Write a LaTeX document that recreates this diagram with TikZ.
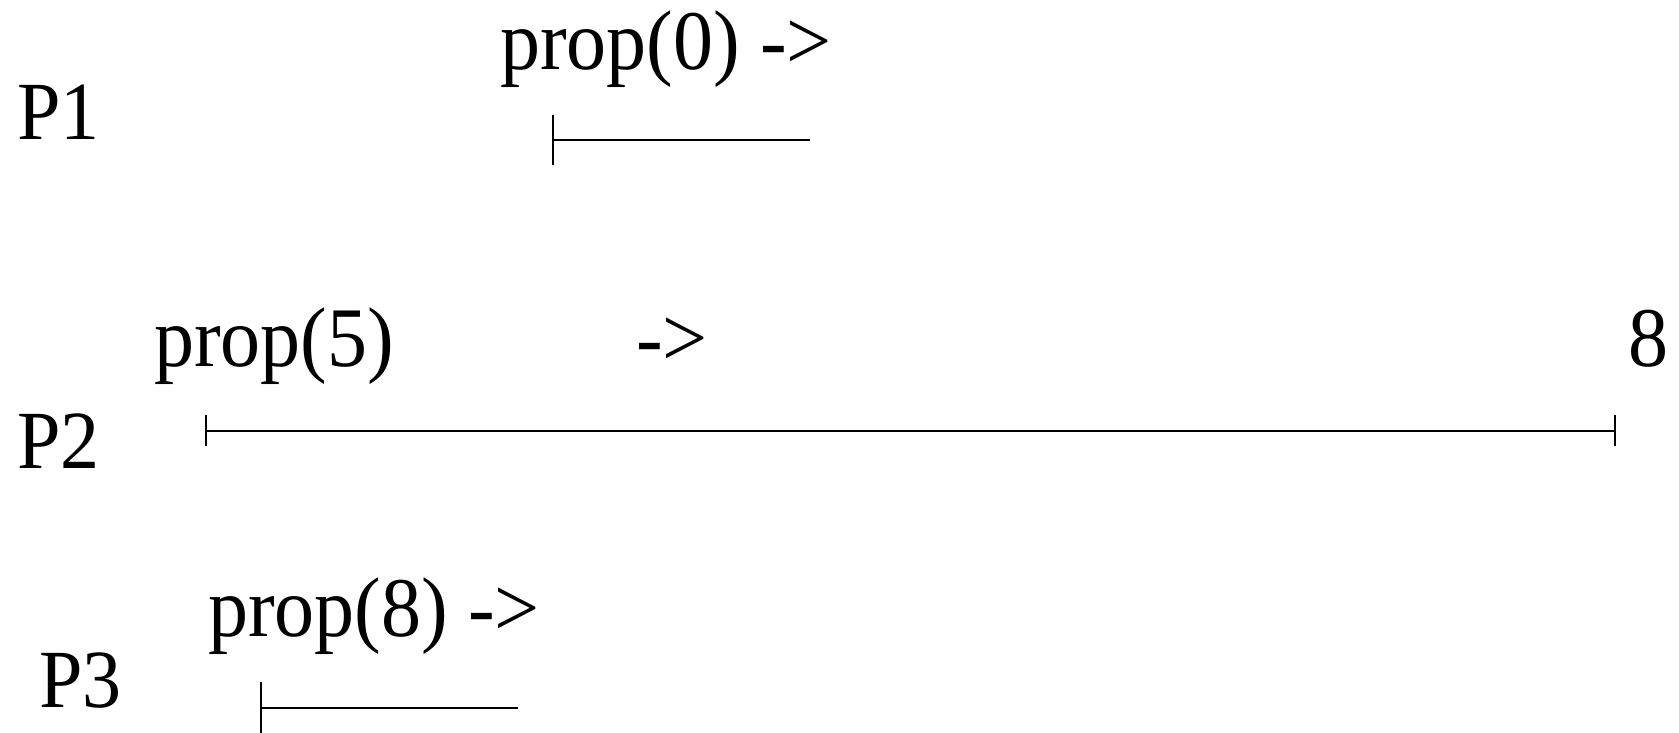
\documentclass[tikz,border=0pt]{standalone}
\usepackage{fontspec}
\setmainfont{Liberation Serif}
\newcommand{\plbl}[1]{\scalebox{1}[1.06]{#1}}
\begin{document}
\begin{tikzpicture}[x=1pt,y=-1pt,
  lbl/.style={anchor=base west,inner sep=0pt,font=\fontsize{80}{84}\selectfont},
  plab/.style={anchor=base west,inner sep=0pt,font=\fontsize{78}{82}\selectfont},
  seg/.style={line width=2pt},
  tick/.style={line width=2pt}]
\useasboundingbox (0,0) rectangle (1679,733);
% labels
\node[plab] (p1) at (17,140) {\plbl{P1}};
\node[plab] (p2) at (17,468) {\plbl{P2}};
\node[plab] (p3) at (39,707) {\plbl{P3}};
\node[lbl] (l0) at (500,70) {\plbl{prop(0) ->}};
\node[lbl] (l5) at (154,366) {\plbl{prop(5)}};
\node[lbl] (a5) at (636,366) {\plbl{->}};
\node[lbl] (e8) at (1628,366) {\plbl{8}};
\node[lbl] (l8) at (208,636) {\plbl{prop(8) ->}};
% P1 interval
\coordinate (s1) at (552.5,140.5);
\coordinate (e1) at (809.5,140.5);
\draw[seg] (s1) -- (e1);
\draw[tick] ([yshift=-25pt]s1) -- ([yshift=25pt]s1);
% P2 interval
\coordinate (s2) at (205.5,430.5);
\coordinate (e2) at (1614.5,430.5);
\draw[seg] (s2) -- (e2);
\draw[tick] ([yshift=-15.5pt]s2) -- ([yshift=15.5pt]s2);
\draw[tick] ([yshift=-15.5pt]e2) -- ([yshift=15.5pt]e2);
% P3 interval
\coordinate (s3) at (260.5,708);
\coordinate (e3) at (517.5,708);
\draw[seg] (s3) -- (e3);
\draw[tick] ([yshift=-26pt]s3) -- ([yshift=26pt]s3);
\end{tikzpicture}
\end{document}
